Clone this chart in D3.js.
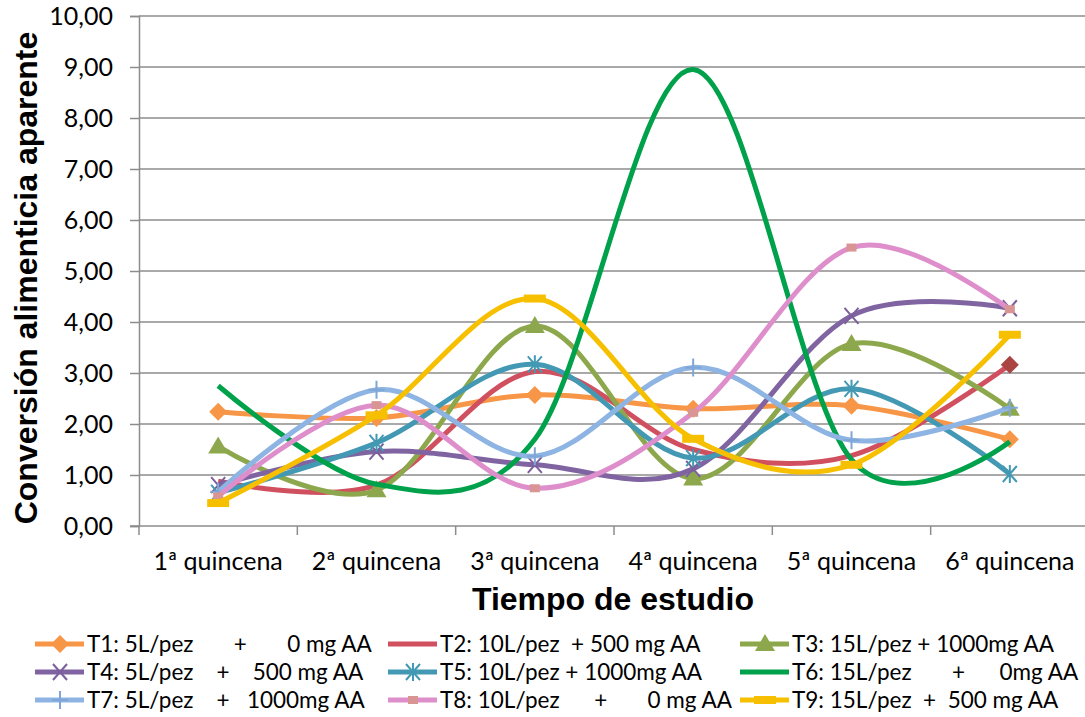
<!DOCTYPE html>
<html>
<head>
<meta charset="utf-8">
<script src="https://cdn.jsdelivr.net/npm/d3@7.9.0/dist/d3.min.js"></script>
<style>
  body { margin: 0; background: #fff; }
  svg text { fill: #000; }
  .tick-label { font-family: Lato, "Open Sans", sans-serif; font-size: 25px; }
  .y-label { font-family: Lato, "Open Sans", sans-serif; font-size: 25px; }
  .legend-label { font-family: Lato, "Open Sans", sans-serif; font-size: 22.5px; white-space: pre; }
  .axis-title { font-family: "Liberation Sans", Arial, sans-serif; font-weight: bold; font-size: 32px; }
</style>
</head>
<body>
<svg id="chart" width="1085" height="717"></svg>
<script>
// categories and tick labels
const quincenas = ['1ª quincena', '2ª quincena', '3ª quincena', '4ª quincena', '5ª quincena', '6ª quincena'];
const yTicks = [0, 1, 2, 3, 4, 5, 6, 7, 8, 9, 10];

// series values
const t1 = [2.24, 2.12, 2.57, 2.30, 2.36, 1.70];
const t2 = [0.88, 0.80, 3.03, 1.50, 1.38, 3.16];
const t3 = [1.56, 0.70, 3.92, 0.93, 3.57, 2.30];
const t4 = [0.80, 1.46, 1.20, 1.12, 4.12, 4.27];
const t5 = [0.65, 1.63, 3.17, 1.33, 2.69, 1.02];
const t6 = [2.75, 0.82, 1.70, 8.95, 1.30, 1.65];
const t7 = [0.67, 2.67, 1.37, 3.11, 1.68, 2.32];
const t8 = [0.58, 2.37, 0.74, 2.22, 5.46, 4.25];
const t9 = [0.45, 2.17, 4.46, 1.71, 1.20, 3.75];

const seriesNames = [
  'T1: 5L/pez       +       0 mg AA',
  'T2: 10L/pez  + 500 mg AA',
  'T3: 15L/pez + 1000mg AA',
  'T4: 5L/pez    +    500 mg AA',
  'T5: 10L/pez + 1000mg AA',
  'T6: 15L/pez       +      0mg AA',
  'T7: 5L/pez    +   1000mg AA',
  'T8: 10L/pez      +       0 mg AA',
  'T9: 15L/pez  +  500 mg AA'
];
const seriesValues = [t1, t2, t3, t4, t5, t6, t7, t8, t9];
const seriesColors = ['#F79646', '#D0505F', '#8DA84C', '#8064A2', '#4399B3', '#00A14B', '#8DB4E2', '#DE8FCB', '#F6C000'];
const seriesMarkers = ['diamond', 'none', 'triangle', 'x', 'star', 'none', 'plus', 'square', 'dash'];

const series = seriesNames.map((name, i) => ({
  name: name,
  values: seriesValues[i],
  color: seriesColors[i],
  marker: seriesMarkers[i]
}));

const margin = { left: 139, right: -4, top: 16, bottom: 191 };
const width = 1085, height = 717;

const svg = d3.select('#chart');

const x = d3.scaleBand()
  .domain(quincenas)
  .range([margin.left, width - margin.right]);

const y = d3.scaleLinear()
  .domain([0, 10])
  .range([height - margin.bottom, margin.top]);

const fmt = v => d3.format('.2f')(v).replace('.', ',');

// gridlines
svg.append('g')
  .selectAll('line')
  .data(yTicks.slice(1))
  .join('line')
  .attr('x1', margin.left)
  .attr('x2', width - margin.right)
  .attr('y1', d => y(d))
  .attr('y2', d => y(d))
  .attr('stroke', '#8c8c8c')
  .attr('stroke-width', 1.5);

// y axis
const yAxis = svg.append('g')
  .attr('transform', `translate(${margin.left},0)`)
  .call(d3.axisLeft(y).tickValues(yTicks).tickFormat(fmt).tickSize(9).tickPadding(17));
yAxis.select('.domain').attr('stroke', '#8c8c8c').attr('stroke-width', 1.5);
yAxis.selectAll('.tick line').attr('stroke', '#8c8c8c').attr('stroke-width', 1.5);
yAxis.selectAll('.tick text').attr('class', 'y-label').attr('font-size', null).attr('font-family', null);

// x axis
const xAxisY = y(0);
svg.append('line')
  .attr('x1', margin.left - 9).attr('x2', width - margin.right)
  .attr('y1', xAxisY).attr('y2', xAxisY)
  .attr('stroke', '#8c8c8c').attr('stroke-width', 1.5);

svg.append('g')
  .selectAll('line')
  .data(quincenas)
  .join('line')
  .attr('x1', d => x(d)).attr('x2', d => x(d))
  .attr('y1', xAxisY).attr('y2', xAxisY + 9)
  .attr('stroke', '#8c8c8c').attr('stroke-width', 1.5);

svg.append('g')
  .selectAll('text')
  .data(quincenas)
  .join('text')
  .attr('class', 'tick-label')
  .attr('x', d => x(d) + x.bandwidth() / 2)
  .attr('y', 570)
  .attr('text-anchor', 'middle')
  .text(d => d);

// axis titles
svg.append('text')
  .attr('class', 'axis-title')
  .attr('x', 613)
  .attr('y', 610)
  .attr('text-anchor', 'middle')
  .text('Tiempo de estudio');

svg.append('text')
  .attr('class', 'axis-title')
  .attr('transform', 'translate(37, 278) rotate(-90)')
  .attr('text-anchor', 'middle')
  .text('Conversión alimenticia aparente');

// lines (Excel-style smoothing)
const line = d3.line()
  .x((d, i) => x(quincenas[i]) + x.bandwidth() / 2)
  .y(d => y(d))
  .curve(d3.curveCardinal.tension(0));

// marker drawing
function drawMarker(g, type, color, cx, cy) {
  if (type === 'diamond') {
    g.append('path')
      .attr('d', `M${cx},${cy - 9}L${cx + 9},${cy}L${cx},${cy + 9}L${cx - 9},${cy}Z`)
      .attr('fill', color);
  } else if (type === 'triangle') {
    g.append('path')
      .attr('d', `M${cx},${cy - 10}L${cx + 10},${cy + 7}L${cx - 10},${cy + 7}Z`)
      .attr('fill', color);
  } else if (type === 'x') {
    g.append('path')
      .attr('d', `M${cx - 7},${cy - 8}L${cx + 7},${cy + 8}M${cx + 7},${cy - 8}L${cx - 7},${cy + 8}`)
      .attr('stroke', color).attr('stroke-width', 2);
  } else if (type === 'star') {
    g.append('path')
      .attr('d', `M${cx - 7},${cy - 8}L${cx + 7},${cy + 8}M${cx + 7},${cy - 8}L${cx - 7},${cy + 8}M${cx},${cy - 9}L${cx},${cy + 9}`)
      .attr('stroke', color).attr('stroke-width', 2);
  } else if (type === 'plus') {
    g.append('path')
      .attr('d', `M${cx - 8},${cy}L${cx + 8},${cy}M${cx},${cy - 9}L${cx},${cy + 9}`)
      .attr('stroke', color).attr('stroke-width', 2);
  } else if (type === 'square') {
    g.append('rect')
      .attr('x', cx - 5).attr('y', cy - 4).attr('width', 10).attr('height', 8)
      .attr('fill', color);
  } else if (type === 'dash') {
    g.append('rect')
      .attr('x', cx - 11).attr('y', cy - 4).attr('width', 22).attr('height', 8)
      .attr('fill', color);
  }
}

const markerColor = {
  diamond: '#F79646', triangle: '#8DA84C', x: '#7B5E9C', star: '#4399B3',
  plus: '#7FA6D6', square: '#D99594', dash: '#F6C000'
};

const plot = svg.append('g');
series.forEach(s => {
  plot.append('path')
    .datum(s.values)
    .attr('d', line)
    .attr('fill', 'none')
    .attr('stroke', s.color)
    .attr('stroke-width', 5)
    .attr('stroke-linejoin', 'round');
  const mg = plot.append('g');
  if (s.marker !== 'none') {
    s.values.forEach((v, i) => {
      drawMarker(mg, s.marker, markerColor[s.marker], x(quincenas[i]) + x.bandwidth() / 2, y(v));
    });
  }
});

// T2 last point marker
const t2Last = t2.length - 1;
drawMarker(plot, 'diamond', '#A94442', x(quincenas[t2Last]) + x.bandwidth() / 2, y(t2[t2Last]));

// legend
const legendCols = [35, 388, 740];
const legendRows = [644, 672, 700];
const legend = svg.append('g');
series.forEach((s, i) => {
  const lx = legendCols[i % 3];
  const ly = legendRows[Math.floor(i / 3)];
  const item = legend.append('g');
  item.append('line')
    .attr('x1', lx).attr('x2', lx + 49)
    .attr('y1', ly).attr('y2', ly)
    .attr('stroke', s.color).attr('stroke-width', 5);
  if (s.marker !== 'none') drawMarker(item, s.marker, markerColor[s.marker], lx + 25, ly);
  item.append('text')
    .attr('class', 'legend-label')
    .attr('x', lx + 52)
    .attr('y', ly + 8)
    .attr('xml:space', 'preserve')
    .text(s.name);
});
</script>
</body>
</html>
